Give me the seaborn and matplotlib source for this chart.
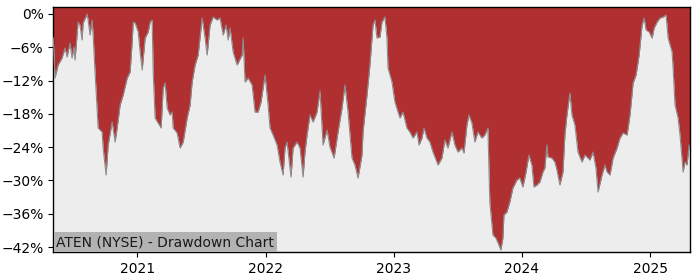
import matplotlib
matplotlib.use("Agg")
import matplotlib.pyplot as plt
import matplotlib.dates as mdates
from matplotlib.ticker import FuncFormatter, FixedLocator
import seaborn as sns
import pandas as pd
import numpy as np

# Decimal-year positions of the drawdown samples
years = [
    2020.345, 2020.358, 2020.382, 2020.413, 2020.436, 2020.452, 2020.475, 2020.491, 2020.506, 2020.514,
    2020.538, 2020.553, 2020.569, 2020.577, 2020.608, 2020.616, 2020.631, 2020.647, 2020.655, 2020.670,
    2020.694, 2020.725, 2020.733, 2020.756, 2020.772, 2020.803, 2020.826, 2020.842, 2020.865, 2020.889,
    2020.920, 2020.943, 2020.959, 2020.967, 2020.982, 2021.006, 2021.021, 2021.037, 2021.060, 2021.084,
    2021.099, 2021.115, 2021.123, 2021.138, 2021.162, 2021.185, 2021.201, 2021.216, 2021.232, 2021.255,
    2021.271, 2021.279, 2021.310, 2021.333, 2021.357, 2021.388, 2021.411, 2021.427, 2021.450, 2021.474,
    2021.505, 2021.528, 2021.544, 2021.567, 2021.591, 2021.622, 2021.645, 2021.669, 2021.692, 2021.708,
    2021.723, 2021.747, 2021.778, 2021.817, 2021.825, 2021.840, 2021.864, 2021.895, 2021.918, 2021.942,
    2021.965, 2021.981, 2021.996, 2022.020, 2022.035, 2022.059, 2022.090, 2022.113, 2022.137, 2022.152,
    2022.168, 2022.199, 2022.215, 2022.246, 2022.269, 2022.293, 2022.308, 2022.324, 2022.347, 2022.371,
    2022.402, 2022.425, 2022.449, 2022.480, 2022.503, 2022.535, 2022.566, 2022.597, 2022.620, 2022.644,
    2022.675, 2022.698, 2022.722, 2022.753, 2022.761, 2022.792, 2022.815, 2022.839, 2022.854, 2022.870,
    2022.893, 2022.909, 2022.932, 2022.948, 2022.956, 2022.987, 2023.010, 2023.049, 2023.073, 2023.104,
    2023.127, 2023.151, 2023.182, 2023.198, 2023.221, 2023.237, 2023.260, 2023.283, 2023.307, 2023.338,
    2023.346, 2023.377, 2023.400, 2023.424, 2023.455, 2023.478, 2023.502, 2023.533, 2023.549, 2023.572,
    2023.588, 2023.611, 2023.634, 2023.658, 2023.689, 2023.712, 2023.736, 2023.751, 2023.775, 2023.798,
    2023.822, 2023.837, 2023.853, 2023.861, 2023.884, 2023.907, 2023.931, 2023.962, 2023.985, 2024.009,
    2024.032, 2024.056, 2024.079, 2024.095, 2024.118, 2024.141, 2024.165, 2024.180, 2024.196, 2024.204,
    2024.235, 2024.258, 2024.274, 2024.297, 2024.321, 2024.336, 2024.352, 2024.375, 2024.391, 2024.414,
    2024.438, 2024.469, 2024.492, 2024.516, 2024.531, 2024.555, 2024.578, 2024.594, 2024.625, 2024.648,
    2024.664, 2024.687, 2024.711, 2024.742, 2024.765, 2024.789, 2024.820, 2024.843, 2024.867, 2024.890,
    2024.914, 2024.937, 2024.953, 2024.968, 2024.992, 2025.015, 2025.031, 2025.054, 2025.077, 2025.101,
    2025.124, 2025.140, 2025.171, 2025.179, 2025.194, 2025.218, 2025.233, 2025.257, 2025.272, 2025.288,
    2025.304, 2025.311,
]

# Drawdown in percent
drawdown = [
    -4.33, -11.54, -9.19, -7.93, -6.13, -7.75, -5.23, -7.93, -5.95, -8.29,
    -1.44, -1.98, -4.69, -1.62, 0.00, -1.08, -3.79, -1.08, -3.79, -10.46,
    -20.55, -21.27, -24.15, -29.02, -23.61, -19.47, -23.07, -20.55, -16.40, -14.60,
    -11.54, -10.46, -5.05, -1.44, -1.62, -3.24, -6.85, -10.09, -4.33, -3.24,
    -1.44, -1.08, -10.46, -18.75, -19.65, -20.55, -13.34, -12.44, -16.94, -18.21,
    -17.67, -20.55, -21.45, -24.15, -23.07, -18.75, -16.40, -12.26, -9.19, -7.39,
    -0.72, -4.33, -7.39, -1.98, -0.54, -1.08, -0.72, -3.79, -1.98, -4.69,
    -2.52, -6.85, -9.19, -7.39, -4.33, -12.26, -11.54, -12.80, -17.67, -17.67,
    -15.86, -13.34, -11.00, -16.40, -20.55, -21.81, -23.61, -26.68, -29.02, -24.15,
    -23.07, -29.38, -24.15, -23.07, -24.15, -29.38, -24.88, -21.81, -18.21, -19.47,
    -17.67, -13.88, -23.61, -20.91, -23.97, -25.96, -21.27, -16.94, -12.80, -17.67,
    -25.96, -27.22, -29.56, -25.42, -21.27, -14.60, -9.19, -1.98, -1.08, -4.33,
    -4.15, -1.44, -0.54, -4.33, -9.73, -12.26, -15.86, -18.75, -17.67, -20.55,
    -21.27, -22.35, -21.27, -23.61, -22.35, -20.55, -22.35, -23.07, -24.88, -26.68,
    -27.22, -25.96, -22.71, -24.15, -21.27, -23.61, -24.88, -24.15, -25.06, -20.01,
    -18.21, -19.65, -23.07, -21.27, -22.35, -21.81, -20.55, -33.89, -39.84, -40.38,
    -41.64, -42.54, -40.38, -36.23, -35.69, -33.89, -31.37, -29.92, -29.56, -31.18,
    -28.66, -25.42, -27.22, -31.18, -30.82, -30.28, -28.48, -27.76, -23.61, -25.78,
    -25.96, -26.68, -28.12, -30.82, -28.48, -21.81, -18.21, -14.24, -18.21, -20.01,
    -24.88, -26.68, -25.42, -25.96, -26.32, -24.88, -27.76, -32.09, -29.02, -27.22,
    -28.48, -29.02, -25.96, -24.15, -22.35, -21.45, -21.81, -18.21, -12.44, -11.00,
    -7.39, -1.98, -0.72, -2.88, -3.24, -4.33, -2.52, -1.44, -0.72, -0.54,
    -0.18, -4.33, -6.85, -9.73, -16.40, -18.75, -21.81, -28.48, -26.68, -27.22,
    -23.61, -24.52,
]

ytick_values = [0, -6, -12, -18, -24, -30, -36, -42]
title_text = "ATEN (NYSE) - Drawdown Chart"


def to_date(y):
    yr = int(np.floor(y))
    start = pd.Timestamp(yr, 1, 1)
    end = pd.Timestamp(yr + 1, 1, 1)
    return start + (end - start) * (y - yr)


df = pd.DataFrame({"date": [to_date(v) for v in years], "dd": drawdown})

fig = plt.figure(figsize=(7, 2.8), dpi=100)
ax = fig.add_axes([53.3 / 700, 1 - 252 / 280, (690 - 53.3) / 700, (252 - 7) / 280])
ax.set_facecolor("#ededed")

ax.set_xlim(df["date"].iloc[0], df["date"].iloc[-1])
ax.set_ylim(-42.9, 1.26)
ytop = ax.get_ylim()[1]

ax.fill_between(df["date"], df["dd"], ytop, color="#b03031", linewidth=0, zorder=2)
sns.lineplot(data=df, x="date", y="dd", ax=ax, color="#8c8c8c", linewidth=0.8, zorder=3)

ax.set_xlim(df["date"].iloc[0], df["date"].iloc[-1])
ax.set_ylim(-42.9, ytop)

ax.yaxis.set_major_locator(FixedLocator(ytick_values))
ax.yaxis.set_major_formatter(FuncFormatter(lambda v, p: f"{v:.0f}%".replace("-", "\u2212")))
ax.xaxis.set_major_locator(mdates.YearLocator())
ax.xaxis.set_major_formatter(mdates.DateFormatter("%Y"))
ax.tick_params(axis="both", labelsize=10)
ax.set_xlabel("")
ax.set_ylabel("")

for s in ax.spines.values():
    s.set_color("black")
    s.set_linewidth(1.0)

ax.text(0.005, 0.012, title_text, transform=ax.transAxes, fontsize=10,
        ha="left", va="bottom", color="#1a1a1a", zorder=5,
        bbox=dict(boxstyle="square,pad=0.2", facecolor="#b2b2b2", edgecolor="none"))

fig.savefig("out.png", dpi=100)
